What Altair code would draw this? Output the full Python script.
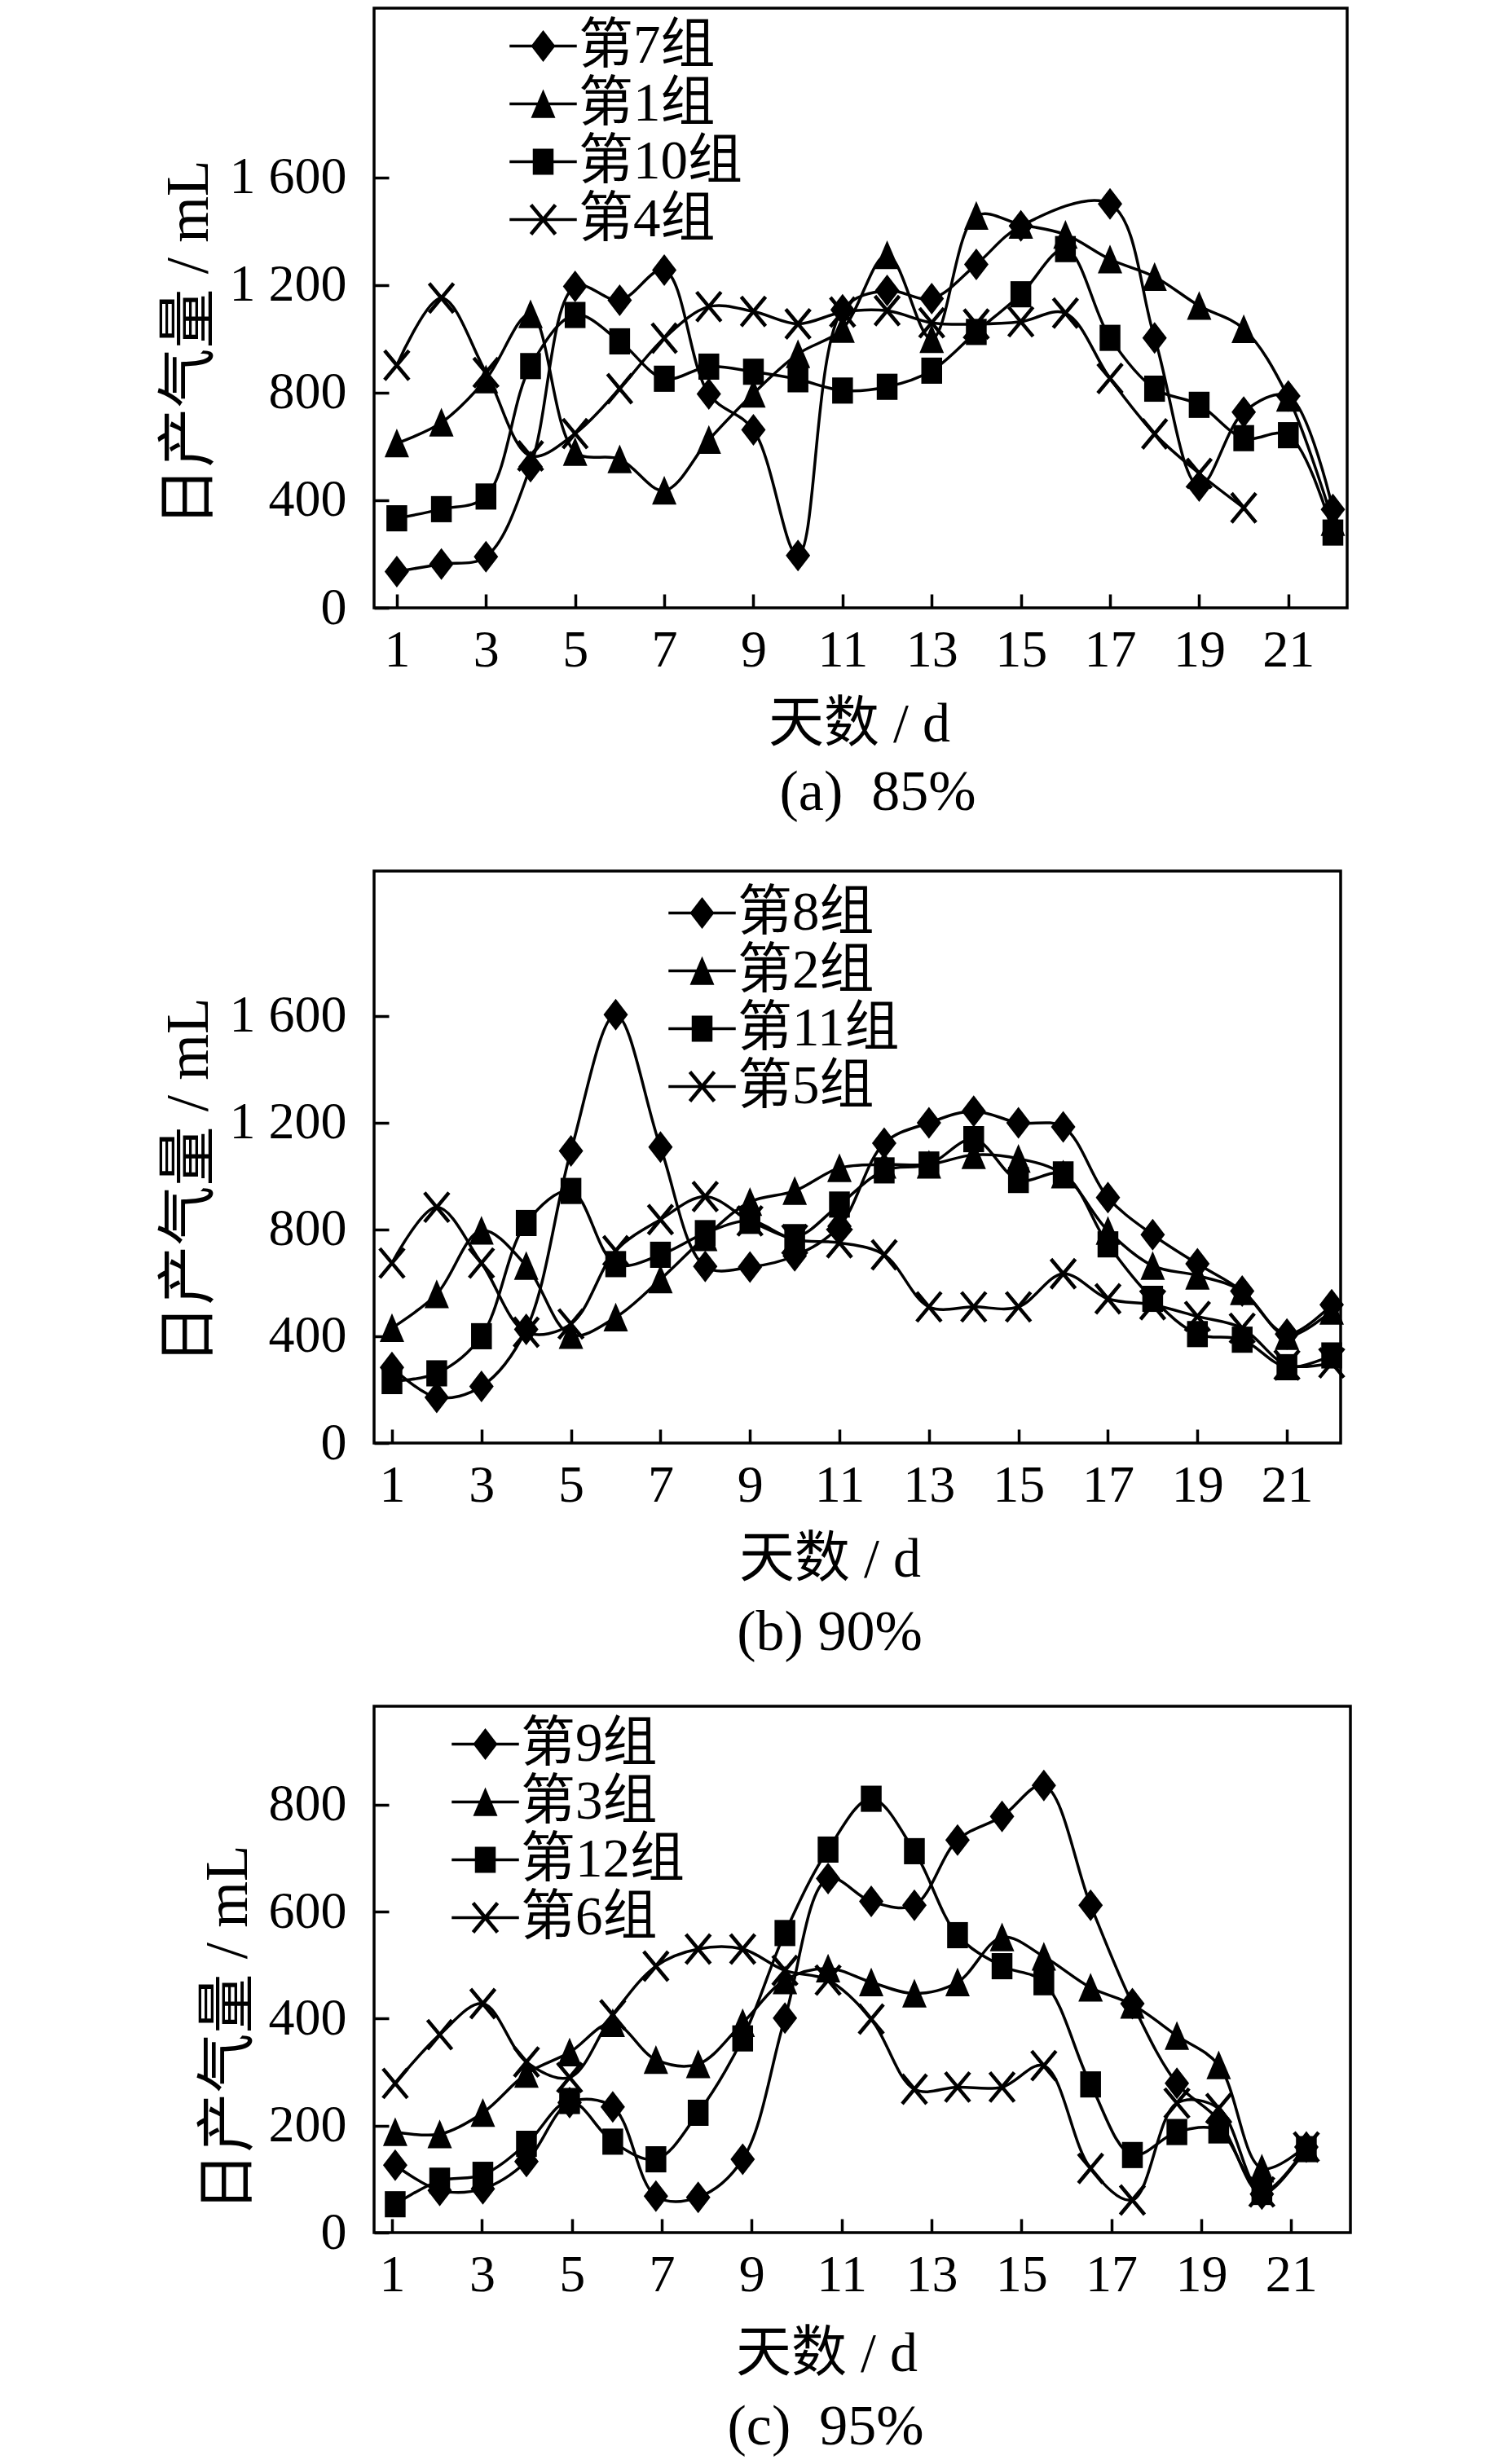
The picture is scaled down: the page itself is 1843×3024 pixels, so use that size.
import altair as alt
import pandas as pd

FONT = "Liberation Serif, Noto Sans CJK SC"

# ---------------- data ----------------
days = list(range(1, 23))

# (a) 85%
groups_a = ["第7组", "第1组", "第10组", "第4组"]
a_g7 = [135, 163, 190, 525, 1195, 1144, 1256, 795, 662, 195, 1108, 1180, 1150, 1277, 1420, None, 1502, 1004, 453, 728, 788, 366]
a_g1 = [612, 689, 850, 1092, 580, 553, 436, 625, 797, 944, 1038, 1312, 1000, 1458, 1425, 1388, 1296, 1231, 1123, 1037, 782, 320]
a_g10 = [333, 367, 414, 899, 1089, 991, 852, 897, 878, 850, 808, 822, 882, 1026, 1166, 1334, 1004, 815, 755, 631, 642, 280]
a_g4 = [902, 1152, 875, 565, 648, 815, 1003, 1120, 1102, 1056, 1100, 1105, 1060, 1055, 1064, 1096, 853, 647, 500, 372, None, None]

# (b) 90%
groups_b = ["第8组", "第2组", "第11组", "第5组"]
b_g8 = [283, 171, 212, 426, 1094, 1604, 1108, 661, 659, 701, 812, 1123, 1199, 1243, 1199, 1184, 919, 780, 671, 569, 408, 518]
b_g2 = [431, 558, 796, 664, 405, 471, 613, 771, 903, 944, 1030, 1043, 1043, 1079, 1065, 1006, 795, 664, 627, 569, 401, 496]
b_g11 = [232, 261, 400, 824, 944, 670, 705, 786, 832, 771, 893, 1021, 1043, 1138, 985, 1006, 744, 540, 408, 387, 284, 328]
b_g5 = [674, 883, 674, 415, 446, 720, 837, 923, 832, 762, 750, 705, 510, 510, 510, 634, 540, 518, 474, 430, 292, 300]

# (c) 95%  (points in the original sit slightly off the day ticks)
days_c = [1.07, 2.06, 3.02, 3.99, 4.95, 5.91, 6.87, 7.81, 8.80, 9.74, 10.70, 11.66,
          12.62, 13.58, 14.57, 15.50, 16.54, 17.47, 18.46, 19.39, 20.35, 21.34]
groups_c = ["第9组", "第3组", "第12组", "第6组"]
c_g9 = [126, 79, 82, 133, 243, 235, 68, 66, 137, 401, 662, 619, 612, 734, 778, 836, 612, 428, 279, 210, 72, 160]
c_g3 = [188, 184, 224, 297, 337, 392, 323, 315, 392, 472, 494, 468, 447, 468, 552, 516, 458, 426, 368, 313, 120, 162]
c_g12 = [53, 97, 108, 166, 246, 170, 137, 224, 363, 560, 716, 811, 713, 556, 498, 468, 277, 145, 188, 191, 76, 156]
c_g6 = [279, 370, 428, 319, 290, 407, 498, 530, 530, 490, 472, 399, 268, 272, 272, 312, 120, 61, 242, 232, 76, 160]

x_ticks = [1, 3, 5, 7, 9, 11, 13, 15, 17, 19, 21]
y_ticks_ab = [0, 400, 800, 1200, 1600]
y_ticks_c = [0, 200, 400, 600, 800]

# ---------------- marker shapes ----------------
DIAMOND = "M0,-1.3L1,0L0,1.3L-1,0Z"
TRIANGLE = "M0,-1.2L1,1.15L-1,1.15Z"
SQUARE = "M-0.85,-1.07H0.85V1.07H-0.85Z"
XMARK = ("M-0.885,-1.296L1.115,1.104L0.885,1.296L-1.115,-1.104Z"
         "M-1.115,1.104L0.885,-1.296L1.115,-1.104L-0.885,1.296Z")
LINE = "M-2.75,-0.11H2.75V0.11H-2.75Z"
markers = [DIAMOND, TRIANGLE, SQUARE, XMARK]
legend_syms = [LINE + m for m in markers]


def long_table(xs, groups, series):
    rows = []
    for g, vals in zip(groups, series):
        for x, v in zip(xs, vals):
            if v is not None:
                rows.append({"day": x, "value": v, "group": g})
    return pd.DataFrame(rows)


def panel(df, groups, xdom, ydom, yticks, w, h, leg_x, leg_y, sub, sub_dx, sub_off,
          xt_x, xt_y, yt_y):
    x = alt.X("day:Q", scale=alt.Scale(domain=xdom, nice=False, zero=False),
              axis=alt.Axis(values=x_ticks, format="d", offset=-17, tickSize=17,
                            domain=False, grid=False, labelFlush=False,
                            labelPadding=20, title="天数 / d",
                            titleX=xt_x, titleY=xt_y, titleBaseline="middle",
                            titleAlign="center", titleFontSize=68))
    y = alt.Y("value:Q", scale=alt.Scale(domain=ydom, nice=False),
              axis=alt.Axis(values=yticks, offset=-18, tickSize=18, domain=False,
                            grid=False, labelPadding=34,
                            labelExpr="replace(format(datum.value, ','), ',', ' ')",
                            title="日产气量 / mL", titleY=yt_y, titlePadding=12,
                            titleFontSize=73))
    base = alt.Chart(df)
    lines = base.mark_line(color="black", strokeWidth=3.5, interpolate="catmull-rom").encode(
        x=x, y=y, detail="group:N")
    pts = base.mark_point(filled=True, color="black", size=900, strokeWidth=0, opacity=1).encode(
        x=x, y=y,
        shape=alt.Shape("group:N", scale=alt.Scale(domain=groups, range=markers), legend=None))
    leg = base.transform_filter("false").mark_point(filled=True, color="black", size=900,
                                                    strokeWidth=0, opacity=1).encode(
        shape=alt.Shape("group:N", scale=alt.Scale(domain=groups, range=legend_syms),
                        sort=groups,
                        legend=alt.Legend(title=None, orient="none", legendX=leg_x, legendY=leg_y,
                                          symbolSize=900, symbolStrokeWidth=0,
                                          symbolFillColor="black", labelFont=FONT,
                                          labelFontSize=67, labelColor="black",
                                          labelLimit=500, labelOffset=10, rowPadding=3,
                                          padding=0)))
    return alt.layer(lines, pts, leg).resolve_scale(shape="independent").properties(
        width=w, height=h,
        title=alt.TitleParams(sub, orient="bottom", anchor="middle", frame="group",
                              offset=sub_off, dx=sub_dx, font=FONT, fontSize=70,
                              fontWeight="normal", color="black"))


pa = panel(long_table(days, groups_a, [a_g7, a_g1, a_g10, a_g4]), groups_a,
           [0.49, 22.32], [0, 2230], y_ticks_ab, 1194, 736, 174, 13,
           "(a)\u00a0\u00a085%", 21, 16, 595, 160, 411)
pb = panel(long_table(days, groups_b, [b_g8, b_g2, b_g11, b_g5]), groups_b,
           [0.6, 22.2], [0, 2142], y_ticks_ab, 1186, 702, 369, 18,
           "(b)\u00a090%", -34, 22, 559, 160, 380)
pc = panel(long_table(days_c, groups_c, [c_g9, c_g3, c_g12, c_g6]), groups_c,
           [0.6, 22.32], [0, 984], y_ticks_c, 1198, 646, 103, 13,
           "(c)\u00a0\u00a095%", -45, 22, 555, 166, 395)

chart = alt.vconcat(pa, pb, pc, spacing=323, bounds="flush").resolve_scale(
    x="independent", y="independent", shape="independent"
).resolve_legend(shape="independent").properties(
    padding={"left": 186, "top": 0, "right": 10, "bottom": 10},
    background="white"
).configure_view(stroke="black", strokeWidth=3.5).configure_axis(
    labelFont=FONT, labelFontSize=64, labelColor="black", tickColor="black", tickWidth=3.5,
    titleFont=FONT, titleFontSize=68, titleFontWeight="normal", titleColor="black"
)

chart.save("out.html", embed_options={"renderer": "svg", "actions": False})
